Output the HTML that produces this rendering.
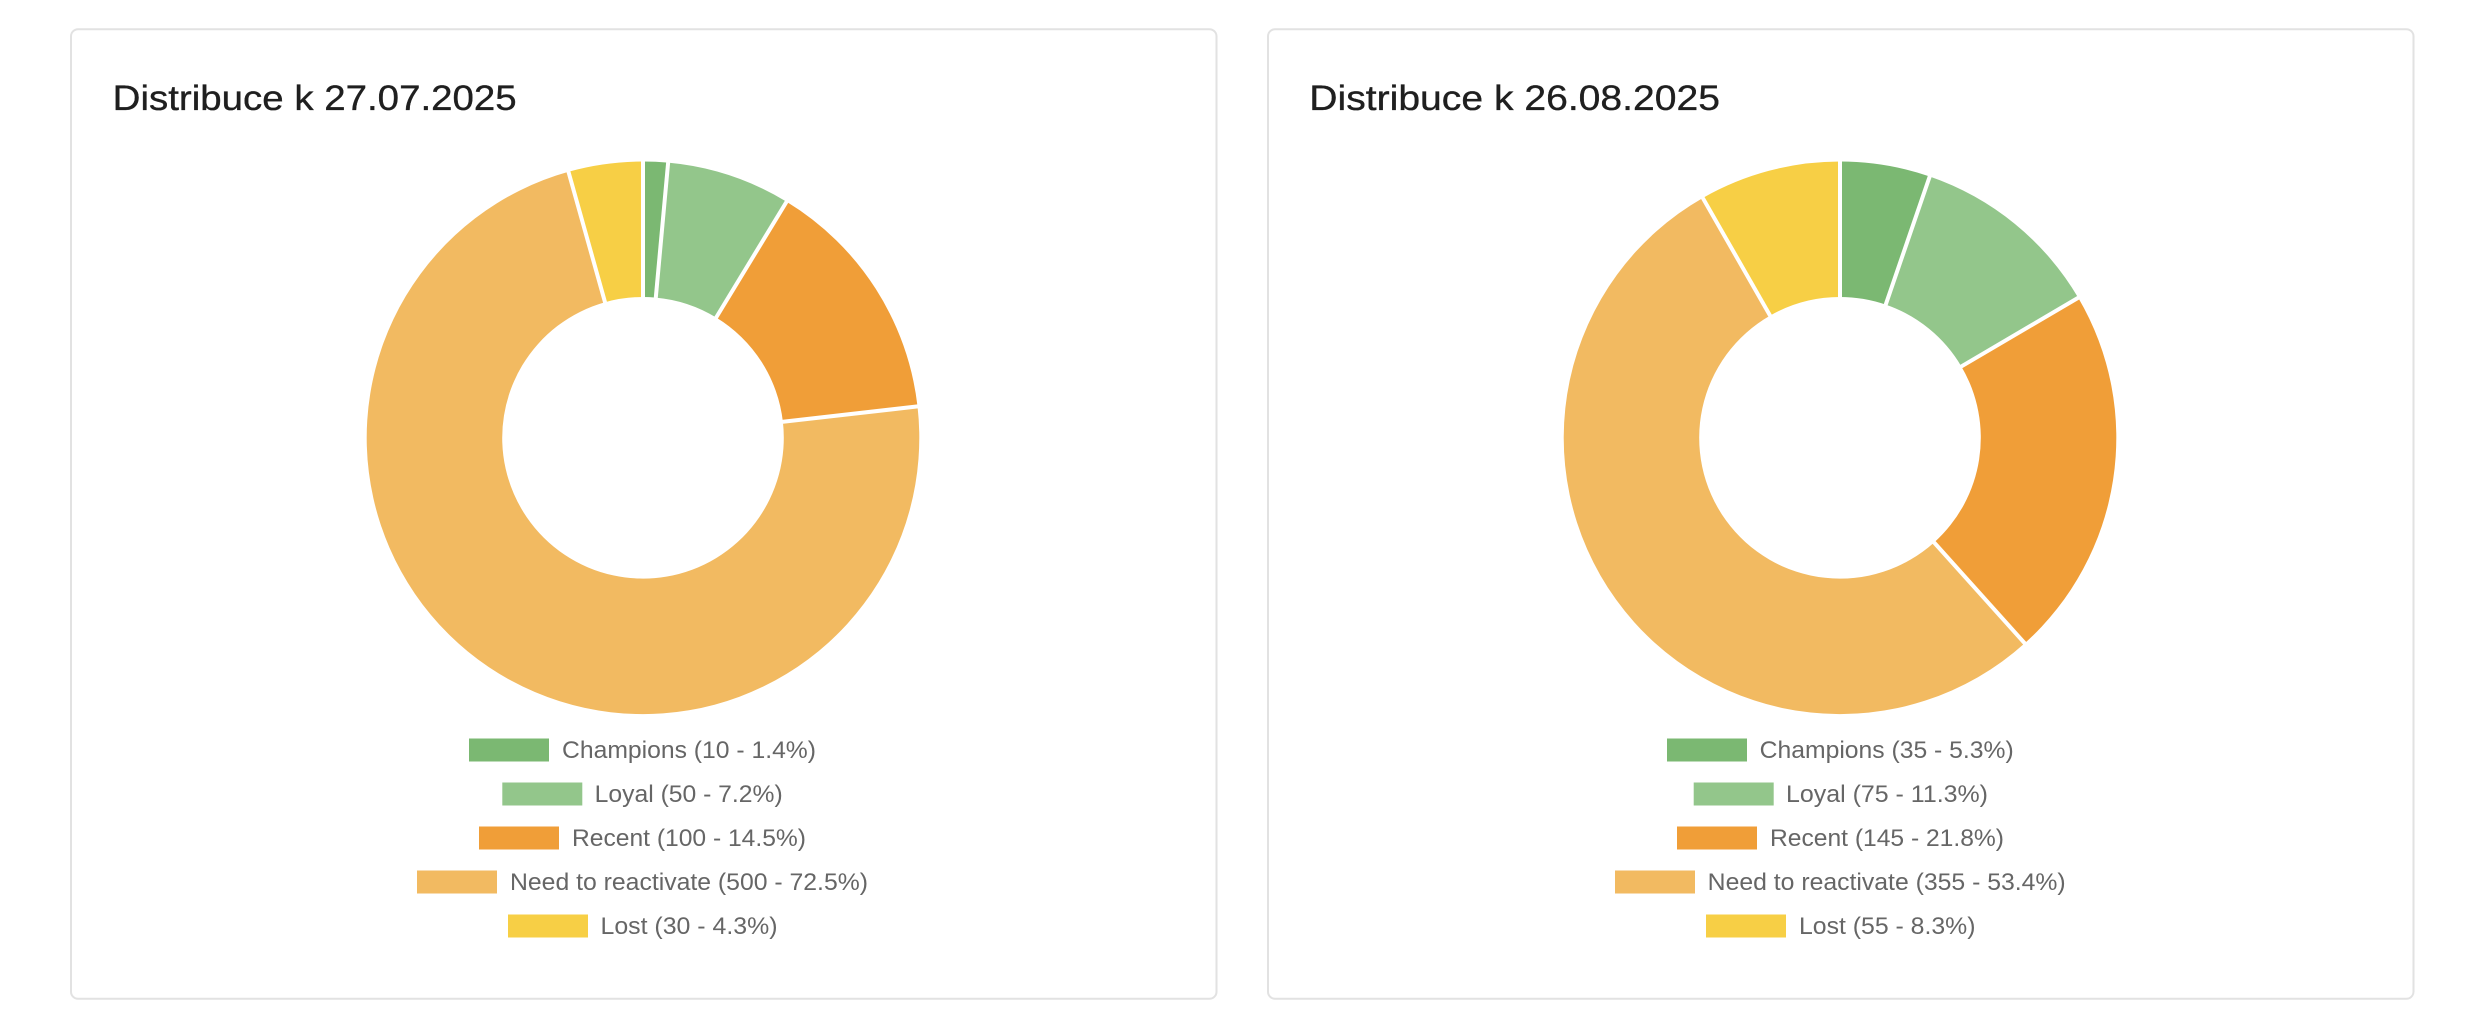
<!DOCTYPE html>
<html>
<head>
<meta charset="utf-8">
<style>
  html, body { margin: 0; padding: 0; background: #ffffff; }
  svg { display: block; }
  .title { font-family: "Liberation Sans", Arial, sans-serif; font-size: 35px; fill: #1f1f1f; stroke: #1f1f1f; stroke-width: 0.35px; }
  .leg { font-family: "Liberation Sans", Arial, sans-serif; font-size: 24px; fill: #666666; }
</style>
</head>
<body>
<svg width="2472" height="1028" viewBox="0 0 2472 1028" xmlns="http://www.w3.org/2000/svg">
  <rect x="0" y="0" width="2472" height="1028" fill="#ffffff"/>

  <!-- Card 1 -->
  <rect x="71" y="29.3" width="1145.5" height="969.4" rx="7" ry="7" fill="#ffffff" stroke="#e2e2e2" stroke-width="2"/>
  <text class="title" x="112.7" y="110" textLength="404" lengthAdjust="spacingAndGlyphs">Distribuce k 27.07.2025</text>

  <g stroke="none">
    <path fill="#7bb872" d="M643 161.5 A276.3 276.3 0 0 1 668.12 162.64 L655.80 297.58 A140.8 140.8 0 0 0 643 297.0 Z"/>
    <path fill="#93c68b" d="M668.12 162.64 A276.3 276.3 0 0 1 786.6 201.73 L716.18 317.50 A140.8 140.8 0 0 0 655.80 297.58 Z"/>
    <path fill="#f09e38" d="M786.6 201.73 A276.3 276.3 0 0 1 917.51 406.42 L782.89 421.81 A140.8 140.8 0 0 0 716.18 317.50 Z"/>
    <path fill="#f2ba61" d="M917.51 406.42 A276.3 276.3 0 1 1 568.46 171.75 L605.01 302.22 A140.8 140.8 0 1 0 782.89 421.81 Z"/>
    <path fill="#f7cf45" d="M568.46 171.75 A276.3 276.3 0 0 1 643 161.5 L643 297.0 A140.8 140.8 0 0 0 605.01 302.22 Z"/>
  </g>
  <g stroke="#ffffff" stroke-width="4">
    <line x1="643" y1="298" x2="643" y2="158" transform="rotate(0 643 437.8)"/>
    <line x1="643" y1="298" x2="643" y2="158" transform="rotate(5.217 643 437.8)"/>
    <line x1="643" y1="298" x2="643" y2="158" transform="rotate(31.304 643 437.8)"/>
    <line x1="643" y1="298" x2="643" y2="158" transform="rotate(83.478 643 437.8)"/>
    <line x1="643" y1="298" x2="643" y2="158" transform="rotate(344.348 643 437.8)"/>
  </g>

  <!-- Legend 1 -->
  <rect x="469" y="738.5" width="80" height="23" fill="#7bb872"/>
  <text class="leg" x="562" y="758" textLength="254" lengthAdjust="spacingAndGlyphs">Champions (10 - 1.4%)</text>
  <rect x="502.3" y="782.5" width="80" height="23" fill="#93c68b"/>
  <text class="leg" x="594.7" y="802" textLength="188" lengthAdjust="spacingAndGlyphs">Loyal (50 - 7.2%)</text>
  <rect x="479" y="826.5" width="80" height="23" fill="#f09e38"/>
  <text class="leg" x="572" y="846" textLength="234" lengthAdjust="spacingAndGlyphs">Recent (100 - 14.5%)</text>
  <rect x="417" y="870.5" width="80" height="23" fill="#f2ba61"/>
  <text class="leg" x="510" y="890" textLength="358" lengthAdjust="spacingAndGlyphs">Need to reactivate (500 - 72.5%)</text>
  <rect x="508" y="914.5" width="80" height="23" fill="#f7cf45"/>
  <text class="leg" x="600.5" y="934" textLength="177" lengthAdjust="spacingAndGlyphs">Lost (30 - 4.3%)</text>

  <!-- Card 2 -->
  <rect x="1268" y="29.3" width="1145.5" height="969.4" rx="7" ry="7" fill="#ffffff" stroke="#e2e2e2" stroke-width="2"/>
  <text class="title" x="1309.3" y="110" textLength="410.7" lengthAdjust="spacingAndGlyphs">Distribuce k 26.08.2025</text>

  <g stroke="none">
    <path fill="#7bb872" d="M1840 161.5 A276.3 276.3 0 0 1 1929.71 176.47 L1885.72 304.63 A140.8 140.8 0 0 0 1840 297.0 Z"/>
    <path fill="#93c68b" d="M1929.71 176.47 A276.3 276.3 0 0 1 2078.20 297.77 L1961.38 366.44 A140.8 140.8 0 0 0 1885.72 304.63 Z"/>
    <path fill="#f09e38" d="M2078.20 297.77 A276.3 276.3 0 0 1 2024.72 643.28 L1934.13 542.51 A140.8 140.8 0 0 0 1961.38 366.44 Z"/>
    <path fill="#f2ba61" d="M2024.72 643.28 A276.3 276.3 0 1 1 1702.80 197.97 L1770.08 315.59 A140.8 140.8 0 1 0 1934.13 542.51 Z"/>
    <path fill="#f7cf45" d="M1702.80 197.97 A276.3 276.3 0 0 1 1840 161.5 L1840 297.0 A140.8 140.8 0 0 0 1770.08 315.59 Z"/>
  </g>
  <g stroke="#ffffff" stroke-width="4">
    <line x1="1840" y1="298" x2="1840" y2="158" transform="rotate(0 1840 437.8)"/>
    <line x1="1840" y1="298" x2="1840" y2="158" transform="rotate(18.947 1840 437.8)"/>
    <line x1="1840" y1="298" x2="1840" y2="158" transform="rotate(59.549 1840 437.8)"/>
    <line x1="1840" y1="298" x2="1840" y2="158" transform="rotate(138.045 1840 437.8)"/>
    <line x1="1840" y1="298" x2="1840" y2="158" transform="rotate(330.226 1840 437.8)"/>
  </g>

  <!-- Legend 2 -->
  <rect x="1667" y="738.5" width="80" height="23" fill="#7bb872"/>
  <text class="leg" x="1759.7" y="758" textLength="254" lengthAdjust="spacingAndGlyphs">Champions (35 - 5.3%)</text>
  <rect x="1693.7" y="782.5" width="80" height="23" fill="#93c68b"/>
  <text class="leg" x="1786" y="802" textLength="202" lengthAdjust="spacingAndGlyphs">Loyal (75 - 11.3%)</text>
  <rect x="1677" y="826.5" width="80" height="23" fill="#f09e38"/>
  <text class="leg" x="1770" y="846" textLength="234" lengthAdjust="spacingAndGlyphs">Recent (145 - 21.8%)</text>
  <rect x="1615" y="870.5" width="80" height="23" fill="#f2ba61"/>
  <text class="leg" x="1707.7" y="890" textLength="358" lengthAdjust="spacingAndGlyphs">Need to reactivate (355 - 53.4%)</text>
  <rect x="1706" y="914.5" width="80" height="23" fill="#f7cf45"/>
  <text class="leg" x="1799" y="934" textLength="176.5" lengthAdjust="spacingAndGlyphs">Lost (55 - 8.3%)</text>
</svg>
</body>
</html>
